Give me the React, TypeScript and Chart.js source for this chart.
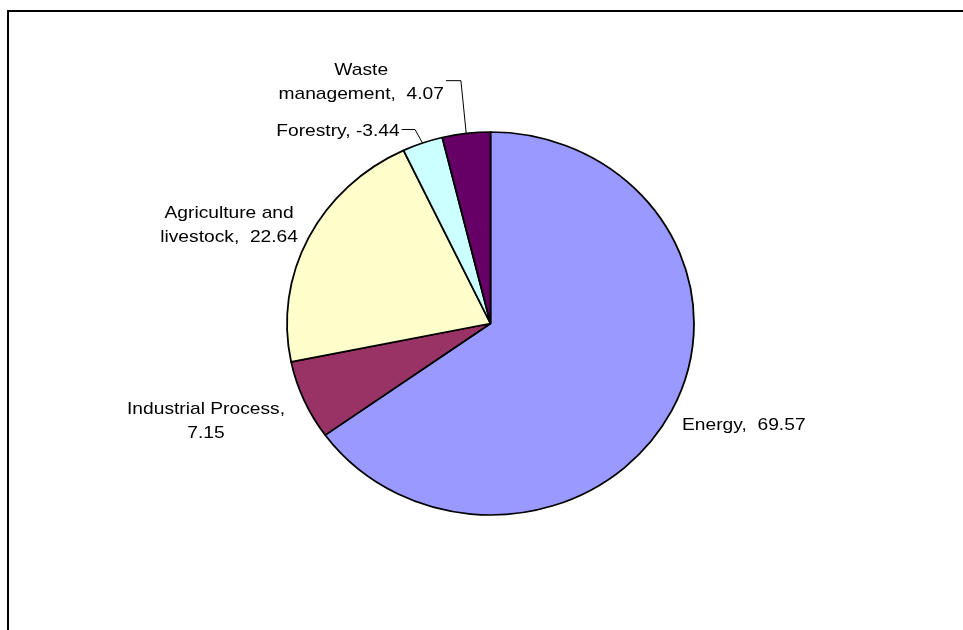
import React, { useEffect, useRef } from "react";
import { Chart, registerables } from "chart.js";

Chart.register(...registerables);

// ---- data ----
const categories = [
  "Energy",
  "Industrial Process",
  "Agriculture and livestock",
  "Forestry",
  "Waste management",
];
const values = [69.57, 7.15, 22.64, -3.44, 4.07];
const colors = ["#9999FF", "#993366", "#FFFFCC", "#CCFFFF", "#660066"];

// ---- presentation ----
const W = 963;
const H = 630;
const RX = 203.5;
const RY = 191.5;
const FONT = '17px "Liberation Sans", Arial, sans-serif';
const TEXT_SX = 1.13;
const LINE_H = 24;

type Layout = {
  dx: number;
  dy: number;
  align: CanvasTextAlign;
  maxW: number;
  leader?: [number, number];
};

// offsets relative to the arc's outer mid point
const labelLayout: Layout[] = [
  { dx: 10.5, dy: 18.7, align: "left", maxW: Infinity },
  { dx: -98, dy: 13.5, align: "center", maxW: 180 },
  { dx: -79.4, dy: -20.3, align: "center", maxW: 145 },
  { dx: -84.6, dy: -7, align: "center", maxW: Infinity, leader: [-7.6, -13.5] },
  { dx: -105, dy: -58.4, align: "center", maxW: 171, leader: [-5.3, -52.7] },
];

const fmt = (v: number) => (v < 0 ? "-" + Math.abs(v).toFixed(2) : " " + v.toFixed(2));

function wrap(ctx: CanvasRenderingContext2D, text: string, maxW: number): string[] {
  const tokens = text.split(/(\s+)/).filter((t) => t.length > 0);
  const lines: string[] = [];
  let cur = "";
  for (const tok of tokens) {
    const cand = cur + tok;
    if (cur.trim().length > 0 && !/^\s+$/.test(tok) && ctx.measureText(cand).width * TEXT_SX > maxW) {
      lines.push(cur.trimEnd());
      cur = tok;
    } else {
      cur = cur.length === 0 && /^\s+$/.test(tok) ? "" : cand;
    }
  }
  if (cur.trim().length) lines.push(cur.trimEnd());
  return lines;
}

const ellipsePlugin = {
  id: "ellipse",
  beforeDatasetsDraw(chart: any) {
    const arc = chart.getDatasetMeta(0).data[0];
    if (!arc) return;
    const ctx = chart.ctx as CanvasRenderingContext2D;
    ctx.save();
    ctx.translate(arc.x, arc.y);
    ctx.scale(1, RY / RX);
    ctx.translate(-arc.x, -arc.y);
  },
  afterDatasetsDraw(chart: any) {
    chart.ctx.restore();
  },
};

const labelPlugin = {
  id: "pieLabels",
  afterDraw(chart: any) {
    const ctx = chart.ctx as CanvasRenderingContext2D;
    const meta = chart.getDatasetMeta(0);
    ctx.save();
    ctx.font = FONT;
    ctx.fillStyle = "#000";
    ctx.textBaseline = "alphabetic";
    meta.data.forEach((arc: any, i: number) => {
      const lay = labelLayout[i];
      const mid = (arc.startAngle + arc.endAngle) / 2;
      const ax = arc.x + RX * Math.cos(mid);
      const ay = arc.y + RY * Math.sin(mid);
      const text = categories[i] + ", " + fmt(values[i]);
      const lines = wrap(ctx, text, lay.maxW);
      const tx = ax + lay.dx;
      const ty = ay + lay.dy;
      let maxRight = -Infinity;
      lines.forEach((ln, k) => {
        const w = ctx.measureText(ln).width * TEXT_SX;
        const right = lay.align === "left" ? tx + w : tx + w / 2;
        if (right > maxRight) maxRight = right;
        ctx.save();
        ctx.translate(tx, ty + k * LINE_H);
        ctx.scale(TEXT_SX, 1);
        ctx.textAlign = lay.align;
        ctx.fillText(ln, 0, 0);
        ctx.restore();
      });
      if (lay.leader) {
        const cx = ax + lay.leader[0];
        const cy = ay + lay.leader[1];
        ctx.beginPath();
        ctx.strokeStyle = "#000";
        ctx.lineWidth = 1;
        ctx.moveTo(maxRight + 2, cy);
        ctx.lineTo(cx, cy);
        ctx.lineTo(ax, ay);
        ctx.stroke();
      }
    });
    // chart frame
    ctx.strokeStyle = "#000";
    ctx.lineWidth = 2;
    ctx.strokeRect(8, 11, 2000, 2000);
    ctx.restore();
  },
};

export default function App() {
  const ref = useRef<HTMLCanvasElement | null>(null);
  useEffect(() => {
    if (!ref.current) return;
    const chart = new Chart(ref.current, {
      type: "pie",
      data: {
        labels: categories,
        datasets: [
          {
            data: values.map((v) => Math.abs(v)),
            backgroundColor: colors,
            borderColor: "#000",
            borderWidth: 1.8,
          },
        ],
      },
      options: {
        responsive: false,
        animation: false,
        devicePixelRatio: 1,
        events: [],
        radius: RX,
        layout: { padding: { left: 18, top: 17, right: 0, bottom: 0 } },
        plugins: {
          legend: { display: false },
          tooltip: { enabled: false },
        },
      } as any,
      plugins: [ellipsePlugin, labelPlugin],
    });
    return () => chart.destroy();
  }, []);
  return (
    <div style={{ position: "absolute", left: 0, top: 0, width: W, height: H, background: "#fff" }}>
      <canvas ref={ref} width={W} height={H} style={{ display: "block" }} />
    </div>
  );
}
